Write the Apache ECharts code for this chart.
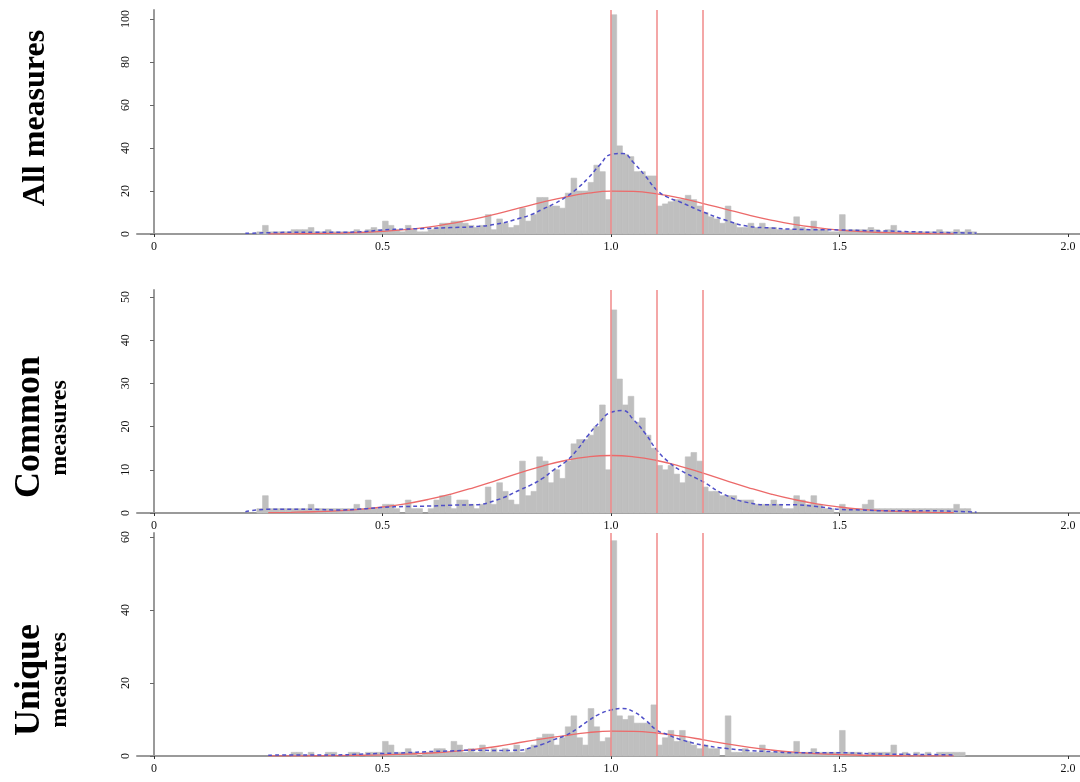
<!DOCTYPE html>
<html>
<head>
<meta charset="utf-8">
<script src="https://cdn.jsdelivr.net/npm/echarts@6/dist/echarts.min.js"></script>
<style>
  html, body { margin: 0; padding: 0; background: #fff; }
  #chart { width: 1080px; height: 782px; }
</style>
</head>
<body>
<div id="chart"></div>
<script>
// histogram bins: 0.2 .. 1.8, width 0.0125
const binStart = 0.2;
const binWidth = 0.0125;

const allCounts = [
  0, 0, 1, 4, 1, 1, 1, 1, 2, 2,
  2, 3, 1, 1, 2, 1, 1, 1, 1, 2,
  1, 2, 3, 2, 6, 4, 2, 1, 4, 2,
  1, 1, 2, 3, 5, 5, 6, 6, 5, 4,
  3, 4, 9, 2, 7, 5, 3, 4, 12, 6,
  9, 17, 17, 13, 13, 12, 19, 26, 20, 20,
  24, 32, 29, 16, 102, 41, 37, 36, 29, 29,
  27, 27, 13, 14, 15, 16, 16, 18, 16, 13,
  10, 8, 7, 5, 13, 5, 3, 3, 5, 3,
  5, 3, 3, 2, 2, 2, 8, 3, 2, 6,
  2, 2, 1, 1, 9, 2, 2, 2, 2, 3,
  2, 1, 2, 4, 1, 1, 1, 1, 1, 1,
  1, 2, 1, 1, 2, 1, 2, 1
];

const commonCounts = [
  0, 0, 1, 4, 1, 1, 1, 1, 1, 1,
  1, 2, 1, 1, 1, 1, 1, 1, 1, 2,
  1, 3, 1, 1, 2, 2, 1, 0, 3, 1,
  1, 0, 1, 3, 4, 4, 1, 3, 3, 2,
  1, 2, 6, 2, 7, 5, 3, 2, 12, 4,
  5, 13, 12, 7, 10, 8, 12, 16, 17, 17,
  18, 20, 25, 10, 47, 31, 25, 27, 21, 22,
  18, 15, 11, 10, 11, 9, 7, 13, 14, 12,
  6, 5, 5, 4, 4, 4, 3, 3, 3, 2,
  2, 2, 3, 2, 1, 1, 4, 3, 2, 4,
  2, 1, 1, 0, 2, 1, 1, 1, 2, 3,
  1, 1, 1, 1, 1, 1, 1, 1, 1, 1,
  1, 1, 1, 1, 2, 1, 1, 0
];

const uniqueCounts = [
  0, 0, 0, 0, 0, 0, 0, 0, 1, 1,
  0, 1, 0, 0, 1, 1, 0, 0, 1, 1,
  0, 1, 1, 1, 4, 3, 1, 1, 2, 1,
  0, 1, 1, 2, 2, 1, 4, 3, 1, 2,
  1, 3, 1, 2, 1, 2, 1, 3, 1, 2,
  3, 5, 6, 6, 3, 5, 8, 11, 5, 3,
  13, 8, 4, 5, 59, 11, 10, 11, 9, 9,
  9, 14, 3, 5, 7, 4, 7, 4, 3, 2,
  3, 2, 2, 0, 11, 1, 1, 2, 1, 1,
  3, 1, 1, 1, 1, 1, 4, 1, 1, 2,
  1, 1, 1, 1, 7, 1, 1, 1, 0, 1,
  1, 1, 1, 3, 0, 1, 0, 1, 0, 1,
  0, 1, 1, 1, 1, 1, 0, 0
];

// fitted normal curves (red)
const normalX = [0.25, 0.3, 0.35, 0.4, 0.45, 0.5, 0.55, 0.6, 0.65, 0.7, 0.75, 0.8, 0.85, 0.9, 0.95,
  1.0, 1.05, 1.1, 1.15, 1.2, 1.25, 1.3, 1.35, 1.4, 1.45, 1.5, 1.55, 1.6, 1.65, 1.7, 1.75];
const allNormal = [0.04, 0.09, 0.19, 0.38, 0.7, 1.2, 2.0, 3.2, 4.9, 6.9, 9.4, 12.1, 14.8, 17.2, 19.0,
  19.9, 19.8, 18.7, 16.8, 14.3, 11.6, 8.9, 6.5, 4.5, 3.0, 1.85, 1.1, 0.62, 0.33, 0.17, 0.08];
const commonNormal = [0.08, 0.16, 0.29, 0.51, 0.86, 1.39, 2.13, 3.13, 4.39, 5.89, 7.55, 9.26, 10.85, 12.15, 13.0,
  13.3, 13.0, 12.15, 10.85, 9.26, 7.55, 5.89, 4.39, 3.13, 2.13, 1.39, 0.86, 0.51, 0.29, 0.16, 0.08];
const uniqueNormal = [0.02, 0.04, 0.07, 0.12, 0.2, 0.32, 0.5, 0.8, 1.2, 1.8, 2.6, 3.7, 4.7, 5.6, 6.4,
  6.8, 6.75, 6.3, 5.5, 4.5, 3.4, 2.45, 1.65, 1.05, 0.65, 0.38, 0.2, 0.1, 0.05, 0.03, 0.01];

// kernel density curves (blue, dashed)
const densityX = [0.2, 0.25, 0.3, 0.35, 0.4, 0.45, 0.5, 0.55, 0.6, 0.65, 0.7, 0.75, 0.8, 0.825, 0.85,
  0.875, 0.9, 0.925, 0.95, 0.975, 1.0, 1.025, 1.05, 1.075, 1.1, 1.125, 1.15, 1.2, 1.25, 1.3,
  1.35, 1.4, 1.45, 1.5, 1.55, 1.6, 1.65, 1.7, 1.75, 1.8];
const allDensity = [0.3, 0.6, 0.8, 0.8, 0.8, 1.0, 1.9, 2.3, 2.6, 3.0, 3.4, 4.6, 7.3, 9, 11.5,
  14, 17, 21, 26, 32, 37, 37.5, 33, 27, 20.5, 17, 15, 10.4, 6.5, 3.6,
  2.8, 2.2, 2.0, 1.9, 1.6, 1.4, 1.1, 0.8, 0.6, 0.4];
const commonDensity = [0.3, 0.85, 0.85, 0.85, 0.7, 0.9, 1.3, 1.5, 1.6, 1.8, 1.9, 3, 5.3, 6.5, 8,
  10, 11.8, 14.5, 18, 21, 23.3, 23.7, 21.5, 18.4, 14.6, 11.9, 10, 7.3, 4.2, 2.4,
  1.9, 1.9, 1.5, 0.85, 0.7, 0.5, 0.5, 0.5, 0.4, 0.2];
const uniqueDensity = [null, 0.2, 0.3, 0.3, 0.3, 0.5, 0.7, 0.9, 1.2, 1.4, 1.6, 1.5, 1.6, 2.3, 3.2,
  4.5, 5.6, 7.4, 9.6, 11.5, 12.6, 13, 12.1, 9.9, 7.1, 5.8, 4.6, 3, 2.1, 1.5,
  1.2, 0.9, 0.9, 0.9, 0.7, 0.5, 0.45, 0.4, 0.3, null];

const refLines = [1.0, 1.1, 1.2];
const xTicks = [0, 0.5, 1.0, 1.5, 2.0];
const yTicksAll = [0, 20, 40, 60, 80, 100];
const yTicksCommon = [0, 10, 20, 30, 40, 50];
const yTicksUnique = [0, 20, 40, 60];

const panels = [
  { counts: allCounts, normal: allNormal, density: allDensity, yTicks: yTicksAll, yMax: 104.2, top: 10, height: 224 },
  { counts: commonCounts, normal: commonNormal, density: commonDensity, yTicks: yTicksCommon, yMax: 51.6, top: 290, height: 223 },
  { counts: uniqueCounts, normal: uniqueNormal, density: uniqueDensity, yTicks: yTicksUnique, yMax: 61.1, top: 533, height: 223 }
];

const serif = "'Liberation Serif', 'DejaVu Serif', serif";
const axisGrey = "#9a9a9a";
const barGrey = "#bfbfbf";

const grids = [], xAxes = [], yAxes = [], series = [];

panels.forEach((p, k) => {
  grids.push({ left: 137, width: 943, top: p.top, height: p.height });
  xAxes.push({
    type: "value",
    gridIndex: k,
    min: -0.0372,
    max: 2.0263,
    splitLine: { show: false },
    axisLine: { show: true, onZero: false, lineStyle: { color: axisGrey, width: 2 } },
    axisTick: { show: true, customValues: xTicks, length: 3, lineStyle: { color: "#333" } },
    axisLabel: {
      customValues: xTicks,
      color: "#111",
      fontFamily: serif,
      fontSize: 12,
      margin: 7,
      formatter: (v) => (v === 0 ? "0" : v.toFixed(1))
    }
  });
  yAxes.push({
    type: "value",
    gridIndex: k,
    min: 0,
    max: p.yMax,
    splitLine: { show: false },
    axisLine: { show: true, lineStyle: { color: axisGrey, width: 2 } },
    axisTick: { show: true, customValues: p.yTicks, length: 4, lineStyle: { color: "#666" } },
    axisLabel: {
      customValues: p.yTicks,
      rotate: 90,
      color: "#111",
      fontFamily: serif,
      fontSize: 12,
      margin: 5
    }
  });

  // reference lines, drawn behind the bars
  series.push({
    type: "line",
    xAxisIndex: k,
    yAxisIndex: k,
    data: [],
    z: 1,
    markLine: {
      silent: true,
      symbol: "none",
      label: { show: false },
      lineStyle: { color: "#f08a8a", width: 1.5, type: "solid" },
      data: refLines.map((v) => ({ xAxis: v }))
    }
  });

  series.push({
    type: "custom",
    xAxisIndex: k,
    yAxisIndex: k,
    z: 2,
    encode: { x: 0, y: 1 },
    data: p.counts.map((c, i) => [binStart + i * binWidth, c]),
    renderItem: (params, api) => {
      const x0 = api.value(0);
      const h = api.value(1);
      if (!h) return null;
      const a = api.coord([x0, 0]);
      const b = api.coord([x0 + binWidth, h]);
      return {
        type: "rect",
        shape: { x: a[0], y: b[1], width: b[0] - a[0], height: a[1] - b[1] },
        style: { fill: barGrey, stroke: barGrey, lineWidth: 0.6 }
      };
    }
  });

  series.push({
    type: "line",
    xAxisIndex: k,
    yAxisIndex: k,
    z: 3,
    smooth: true,
    symbol: "none",
    lineStyle: { color: "#ec6a6a", width: 1.3 },
    data: normalX.map((x, i) => [x, p.normal[i]])
  });

  series.push({
    type: "line",
    xAxisIndex: k,
    yAxisIndex: k,
    z: 4,
    smooth: true,
    symbol: "none",
    connectNulls: false,
    lineStyle: { color: "#4f4fc8", width: 1.5, type: [4, 3] },
    data: densityX.map((x, i) => [x, p.density[i]])
  });
});

const titleFont = (size) => `bold ${size}px ${serif}`;
const rotatedText = (text, x, y, size) => ({
  type: "text",
  x: x,
  y: y,
  rotation: Math.PI / 2,
  style: { text: text, font: titleFont(size), fill: "#000", align: "center", verticalAlign: "middle" }
});

const option = {
  animation: false,
  backgroundColor: "#fff",
  grid: grids,
  xAxis: xAxes,
  yAxis: yAxes,
  series: series,
  graphic: {
    elements: [
      rotatedText("All measures", 36, 118, 32),
      rotatedText("Common", 30, 427, 36),
      rotatedText("measures", 60, 428, 24),
      rotatedText("Unique", 30, 680, 36),
      rotatedText("measures", 60, 680, 24)
    ]
  }
};

const chart = echarts.init(document.getElementById("chart"), null, { renderer: "canvas" });
chart.setOption(option);
</script>
</body>
</html>
